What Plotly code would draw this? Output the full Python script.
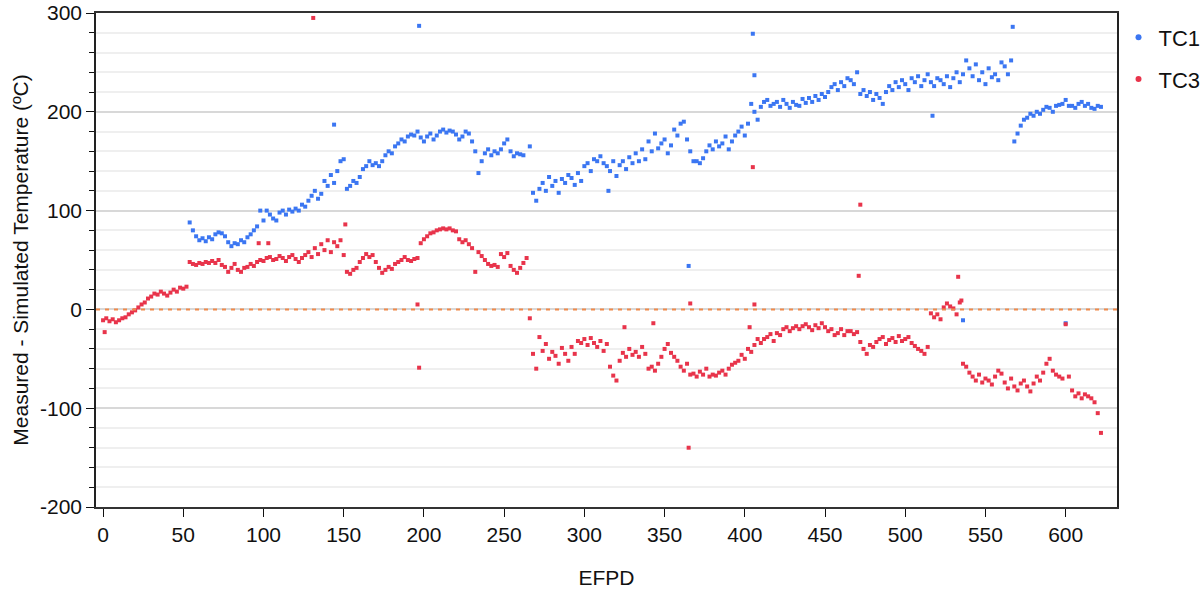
import plotly.graph_objects as go

# Shared EFPD sampling for the thermocouple series
efpd = [
    0, 2, 4, 6, 8, 10, 12, 14, 16, 18, 20, 22, 24, 26, 28, 30, 32, 34, 36, 38,
    40, 42, 44, 46, 48, 50, 52, 54, 56, 58, 60, 62, 64, 66, 68, 70, 72, 74, 76, 78,
    80, 82, 84, 86, 88, 90, 92, 94, 96, 98, 100, 102, 104, 106, 108, 110, 112, 114, 116, 118,
    120, 122, 124, 126, 128, 130, 132, 134, 136, 138, 140, 142, 144, 146, 148, 150, 152, 154, 156, 158,
    160, 162, 164, 166, 168, 170, 172, 174, 176, 178, 180, 182, 184, 186, 188, 190, 192, 194, 196, 198,
    200, 202, 204, 206, 208, 210, 212, 214, 216, 218, 220, 222, 224, 226, 228, 230, 232, 234, 236, 238,
    240, 242, 244, 246, 248, 250, 252, 254, 256, 258, 260, 262, 264, 266, 268, 270, 272, 274, 276, 278,
    280, 282, 284, 286, 288, 290, 292, 294, 296, 298, 300, 302, 304, 306, 308, 310, 312, 314, 316, 318,
    320, 322, 324, 326, 328, 330, 332, 334, 336, 338, 340, 342, 344, 346, 348, 350, 352, 354, 356, 358,
    360, 362, 364, 366, 368, 370, 372, 374, 376, 378, 380, 382, 384, 386, 388, 390, 392, 394, 396, 398,
    400, 402, 404, 406, 408, 410, 412, 414, 416, 418, 420, 422, 424, 426, 428, 430, 432, 434, 436, 438,
    440, 442, 444, 446, 448, 450, 452, 454, 456, 458, 460, 462, 464, 466, 468, 470, 472, 474, 476, 478,
    480, 482, 484, 486, 488, 490, 492, 494, 496, 498, 500, 502, 504, 506, 508, 510, 512, 514, 516, 518,
    520, 522, 524, 526, 528, 530, 532, 534, 536, 538, 540, 542, 544, 546, 548, 550, 552, 554, 556, 558,
    560, 562, 564, 566, 568, 570, 572, 574, 576, 578, 580, 582, 584, 586, 588, 590, 592, 594, 596, 598,
    600, 602, 604, 606, 608, 610, 612, 614, 616, 618, 620, 622,
]

# TC1: measured minus simulated temperature (degC); None where no reading
tc1_delta = [
    None, None, None, None, None, None, None, None, None, None, None, None, None, None, None, None, None, None, None, None,
    None, None, None, None, None, None, None, 88, 80, 74, 70, 72, 69, 73, 71, 76, 78, 77, 74, 68,
    64, 67, 66, 70, 68, 73, 76, 80, 84, 100, 90, 100, 96, 92, 90, 98, 100, 96, 101, 99,
    102, 100, 106, 104, 110, 115, 120, 112, 117, 130, 125, 136, 128, 140, 150, 152, 122, 125, 130, 128,
    134, 142, 145, 150, 146, 148, 145, 150, 156, 160, 158, 165, 168, 172, 170, 175, 177, 176, 180, 174,
    170, 175, 178, 172, 176, 180, 182, 179, 181, 180, 177, 172, 175, 180, 178, 170, 160, 138, 150, 158,
    162, 156, 160, 158, 162, 168, 172, 160, 155, 158, 157, 156, None, 165, 118, 110, 122, 128, 120, 134,
    125, 130, 118, 132, 128, 136, 133, 126, 138, 130, 145, 148, 140, 152, 150, 155, 148, 145, 140, 150,
    135, 146, 150, 142, 154, 148, 158, 150, 162, 152, 170, 160, 178, 163, 168, 172, 158, 166, 182, 176,
    188, 190, 172, 160, 150, 150, 148, 153, 160, 166, 162, 170, 165, 168, 175, 162, 170, 176, 180, 185,
    176, 188, 208, 200, 192, 205, 210, 212, 206, 208, 210, 205, 212, 208, 204, 210, 207, 206, 213, 209,
    214, 210, 216, 212, 218, 215, 220, 225, 228, 222, 230, 226, 234, 232, 228, 240, 218, 222, 216, 220,
    212, 218, 214, 208, 220, 226, 222, 230, 225, 232, 228, 222, 234, 230, 236, 226, 232, 238, 230, 226,
    234, 232, 228, 236, 225, 234, 240, 230, 238, 252, 244, 236, 248, 232, 240, 228, 244, 235, 238, 232,
    250, 246, 238, 252, 170, 178, 186, 192, 194, 198, 196, 200, 198, 202, 205, 204, 200, 206, 207, 208,
    212, 206, 206, 204, 208, 210, 206, 208, 204, 203, 206, 205,
]

# TC3: measured minus simulated temperature (degC)
tc3_delta = [
    -11, -9, -12, -10, -13, -11, -9, -8, -5, -3, -1, 2, 5, 7, 11, 13, 16, 15, 18, 16,
    14, 17, 20, 18, 22, 21, 23, 48, 46, 45, 47, 46, 48, 47, 49, 47, 50, 45, 43, 38,
    42, 46, 40, 38, 42, 43, 46, 44, 48, 50, 49, 52, 53, 50, 51, 54, 52, 49, 53, 55,
    51, 48, 52, 55, 58, 53, 62, 56, 66, 60, 70, 58, 68, 64, 70, 55, 38, 36, 40, 42,
    48, 52, 56, 53, 55, 48, 42, 37, 40, 43, 41, 46, 48, 50, 53, 50, 49, 51, 52, 67,
    71, 74, 77, 78, 80, 81, 82, 81, 82, 80, 79, 71, 68, 70, 66, 62, 38, 58, 54, 50,
    46, 44, 45, 43, 56, 53, 57, 44, 40, 37, 42, 47, 52, -9, -45, -60, -28, -42, -35, -50,
    -43, -47, -55, -39, -45, -52, -38, -45, -32, -34, -30, -36, -29, -34, -38, -32, -42, -35, -58, -67,
    -72, -52, -44, -48, -40, -46, -43, -48, -38, -45, -60, -58, -62, -55, -48, -40, -35, -44, -48, -52,
    -58, -62, -55, -66, -65, -68, -63, -66, -60, -68, -66, -67, -64, -62, -66, -60, -56, -54, -52, -46,
    -50, -40, -43, -36, -30, -34, -30, -28, -25, -32, -24, -26, -20, -18, -22, -19, -17, -20, -17, -15,
    -18, -21, -16, -19, -14, -18, -22, -20, -26, -24, -20, -26, -22, -22, -25, -23, -33, -40, -45, -36,
    -38, -33, -30, -28, -35, -31, -29, -33, -27, -32, -30, -28, -34, -37, -40, -42, -45, -38, -4, -8,
    -5, -10, 2, 6, 3, 1, -5, 7, -55, -58, -64, -68, -72, -66, -74, -70, -72, -76, -68, -62,
    -65, -74, -80, -70, -78, -82, -75, -72, -78, -83, -75, -68, -72, -64, -55, -50, -62, -66, -68, -70,
    -15, -68, -82, -88, -85, -90, -86, -88, -90, -94, -105, -125,
]

# Isolated readings away from the main trend
tc1_extra_efpd = [144, 197, 315, 365, 405, 406, 517, 536, 567, 600]
tc1_extra_delta = [187, 287, 120, 44, 279, 237, 196, -11, 286, -14]
tc3_extra_efpd = [1, 97, 103, 131, 151, 196, 197, 325, 343, 365, 366, 403, 405, 406, 471, 472, 533, 535]
tc3_extra_delta = [-23, 67, 67, 295, 86, 5, -59, -18, -14, -140, 6, -18, 144, 5, 34, 106, 33, 9]

# y tick labels written with a plain hyphen-minus
y_ticks = [-200, -100, 0, 100, 200, 300]
y_tick_labels = ["-200", "-100", "0", "100", "200", "300"]

BLUE = "#3b76f2"
RED = "#e8344b"
FONT = "Liberation Sans, Arial, sans-serif"

tc1_x = [x for x, v in zip(efpd, tc1_delta) if v is not None] + tc1_extra_efpd
tc1_y = [v for v in tc1_delta if v is not None] + tc1_extra_delta
tc3_x = list(efpd) + tc3_extra_efpd
tc3_y = list(tc3_delta) + tc3_extra_delta

fig = go.Figure()

for name, xs, ys, color in [("TC1", tc1_x, tc1_y, BLUE), ("TC3", tc3_x, tc3_y, RED)]:
    fig.add_trace(go.Scatter(
        x=xs, y=ys, mode="markers", name=name, legendgroup=name, showlegend=False,
        marker=dict(symbol="square", size=4, color=color, line=dict(width=0)),
    ))
    # round legend swatch
    fig.add_trace(go.Scatter(
        x=[None], y=[None], mode="markers", name=name, legendgroup=name, showlegend=True,
        marker=dict(symbol="circle", size=6, color=color),
    ))

# zero reference line
fig.add_shape(type="line", xref="paper", x0=0, x1=1, yref="y", y0=0, y1=0,
              line=dict(color="#f08a4b", width=2, dash="4px,5px"), layer="above")

fig.update_layout(
    width=1204, height=590,
    margin=dict(l=96, r=87, t=13, b=83, autoexpand=False),
    paper_bgcolor="white", plot_bgcolor="white",
    font=dict(family=FONT, size=21, color="#111111"),
    legend=dict(xref="container", x=0.929, xanchor="left", yref="container", y=0.972, yanchor="top",
                font=dict(size=22), traceorder="grouped", tracegroupgap=10,
                itemwidth=30, bgcolor="rgba(0,0,0,0)"),
    xaxis=dict(
        range=[-4.4, 632], tickmode="linear", tick0=0, dtick=50, automargin=False,
        ticks="outside", ticklen=8, tickcolor="#111", showgrid=False, zeroline=False,
        showline=True, linecolor="#333", linewidth=1.5, mirror=True,
        title=dict(text="EFPD", standoff=25, font=dict(size=21)),
        tickfont=dict(size=21),
    ),
    yaxis=dict(
        range=[-200, 300], tickmode="array", tickvals=y_ticks, ticktext=y_tick_labels,
        automargin=False,
        ticks="outside", ticklen=8, tickcolor="#111", zeroline=False,
        showgrid=True, gridcolor="#d8d8d8", gridwidth=1.5,
        showline=True, linecolor="#222", linewidth=1.5, mirror=True,
        minor=dict(tickmode="linear", tick0=-200, dtick=20, showgrid=True, gridcolor="#efefef", gridwidth=1.5,
                   ticks="outside", ticklen=5, tickcolor="#111"),
        title=dict(text="Measured - Simulated Temperature (ºC)", standoff=6, font=dict(size=21)),
        tickfont=dict(size=21),
    ),
)

fig.write_html("out.html")
